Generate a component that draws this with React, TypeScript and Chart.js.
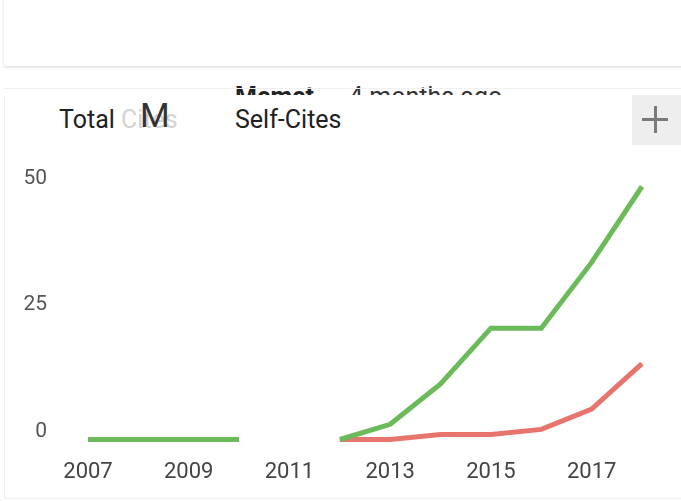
import React, { useEffect, useRef } from "react";
import { Chart, registerables } from "chart.js";

Chart.register(...registerables);

const years = ["2007", "2008", "2009", "2010", "2011", "2012", "2013", "2014", "2015", "2016", "2017", "2018"];
const totalCites: (number | null)[] = [0, 0, 0, 0, null, 0, 3, 11, 22, 22, 35, 50];
const selfCites: (number | null)[] = [null, null, null, null, null, 0, 0, 1, 1, 2, 6, 15];
const yTicks = [0, 25, 50];

const FONT = "Roboto, 'Noto Sans', sans-serif";

function LineChart() {
  const ref = useRef<HTMLCanvasElement | null>(null);
  useEffect(() => {
    if (!ref.current) return;
    const chart = new Chart(ref.current, {
      type: "line",
      data: {
        labels: years,
        datasets: [
          {
            label: "Total Cites",
            data: totalCites,
            borderColor: "#6cbb5a",
            backgroundColor: "#6cbb5a",
            borderWidth: 5,
            pointRadius: 0,
            pointHoverRadius: 0,
            tension: 0,
            spanGaps: false,
            clip: false as any,
            borderCapStyle: "butt",
            borderJoinStyle: "miter",
          },
          {
            label: "Self-Cites",
            data: selfCites,
            borderColor: "#e8756d",
            backgroundColor: "#e8756d",
            borderWidth: 5,
            pointRadius: 0,
            pointHoverRadius: 0,
            tension: 0,
            spanGaps: false,
            clip: false as any,
            borderCapStyle: "butt",
            borderJoinStyle: "miter",
          },
        ],
      },
      options: {
        animation: false,
        responsive: false,
        maintainAspectRatio: false,
        events: [],
        layout: { padding: { top: 36.5, right: 39, bottom: 0, left: 0 } },
        plugins: {
          legend: { display: false },
          tooltip: { enabled: false },
          title: { display: false },
        },
        scales: {
          x: {
            type: "category",
            offset: false,
            grid: { display: false, drawTicks: false },
            border: { display: false },
            ticks: {
              autoSkip: false,
              maxRotation: 0,
              minRotation: 0,
              padding: 20,
              color: "#444444",
              font: { family: FONT, size: 22 },
              callback: (_v: any, i: number) => (i % 2 === 0 ? years[i] : ""),
            },
            afterFit: (s: any) => {
              s.height = 60.5;
            },
          },
          y: {
            min: yTicks[0],
            max: yTicks[yTicks.length - 1],
            grid: { display: false, drawTicks: true, tickLength: 41 },
            border: { display: false },
            afterBuildTicks: (s: any) => {
              s.ticks = yTicks.map((v) => ({ value: v }));
            },
            ticks: {
              padding: 0,
              labelOffset: -8,
              color: "#555555",
              font: { family: FONT, size: 21 },
            },
            afterFit: (s: any) => {
              s.width = 88;
            },
          },
        },
      },
    });
    return () => chart.destroy();
  }, []);
  return (
    <canvas
      ref={ref}
      width={681}
      height={350}
      style={{ position: "absolute", left: 0, top: 150, width: 681, height: 350 }}
    />
  );
}

export default function App() {
  useEffect(() => {
    document.body.style.margin = "0";
  }, []);
  return (
    <div
      style={{
        position: "fixed",
        left: 0,
        top: 0,
        width: 681,
        height: 501,
        overflow: "hidden",
        background: "#ffffff",
        fontFamily: FONT,
      }}
    >
      {/* top card */}
      <div
        style={{
          position: "absolute",
          left: 4,
          top: -4,
          width: 690,
          height: 70,
          background: "#ffffff",
          boxShadow: "0 1px 3px rgba(0,0,0,0.16)",
        }}
      />
      {/* partially hidden header text */}
      <div style={{ position: "absolute", left: 0, top: 80, width: 681, height: 15, overflow: "hidden" }}>
        <div
          style={{
            position: "absolute",
            left: 235,
            top: 4.3,
            fontSize: 25,
            lineHeight: "25px",
            fontWeight: 700,
            color: "#222",
            whiteSpace: "nowrap",
          }}
        >
          Memet
        </div>
        <div
          style={{
            position: "absolute",
            left: 349,
            top: 4.3,
            fontSize: 25,
            lineHeight: "25px",
            fontWeight: 400,
            color: "#333",
            whiteSpace: "nowrap",
          }}
        >
          4 months ago
        </div>
      </div>
      {/* chart card */}
      <div
        style={{
          position: "absolute",
          left: 4,
          top: 95,
          width: 690,
          height: 403,
          background: "#ffffff",
          borderLeft: "1px solid #eeeeee",
          borderBottom: "1px solid #eeeeee",
        }}
      />
      <div style={{ position: "absolute", left: 4, top: 88, width: 690, height: 1, background: "#f0f0f0" }} />
      {/* legend */}
      <div
        style={{
          position: "absolute",
          left: 59,
          top: 107,
          fontSize: 25,
          lineHeight: "25px",
          color: "#212121",
          whiteSpace: "nowrap",
        }}
      >
        Total <span style={{ color: "#d4d4d4" }}>Cites</span>
      </div>
      <div
        style={{
          position: "absolute",
          left: 140,
          top: 98,
          fontSize: 34,
          lineHeight: "34px",
          color: "#333333",
          whiteSpace: "nowrap",
        }}
      >
        M
      </div>
      <div
        style={{
          position: "absolute",
          left: 235,
          top: 107,
          fontSize: 25,
          lineHeight: "25px",
          color: "#212121",
          whiteSpace: "nowrap",
        }}
      >
        Self-Cites
      </div>
      {/* plus button */}
      <div style={{ position: "absolute", left: 632, top: 95, width: 60, height: 50, background: "#eeeeee" }}>
        <div style={{ position: "absolute", left: 10, top: 23, width: 26, height: 3, background: "#7a7a7a" }} />
        <div style={{ position: "absolute", left: 21.5, top: 11, width: 3, height: 27, background: "#7a7a7a" }} />
      </div>
      <LineChart />
    </div>
  );
}
